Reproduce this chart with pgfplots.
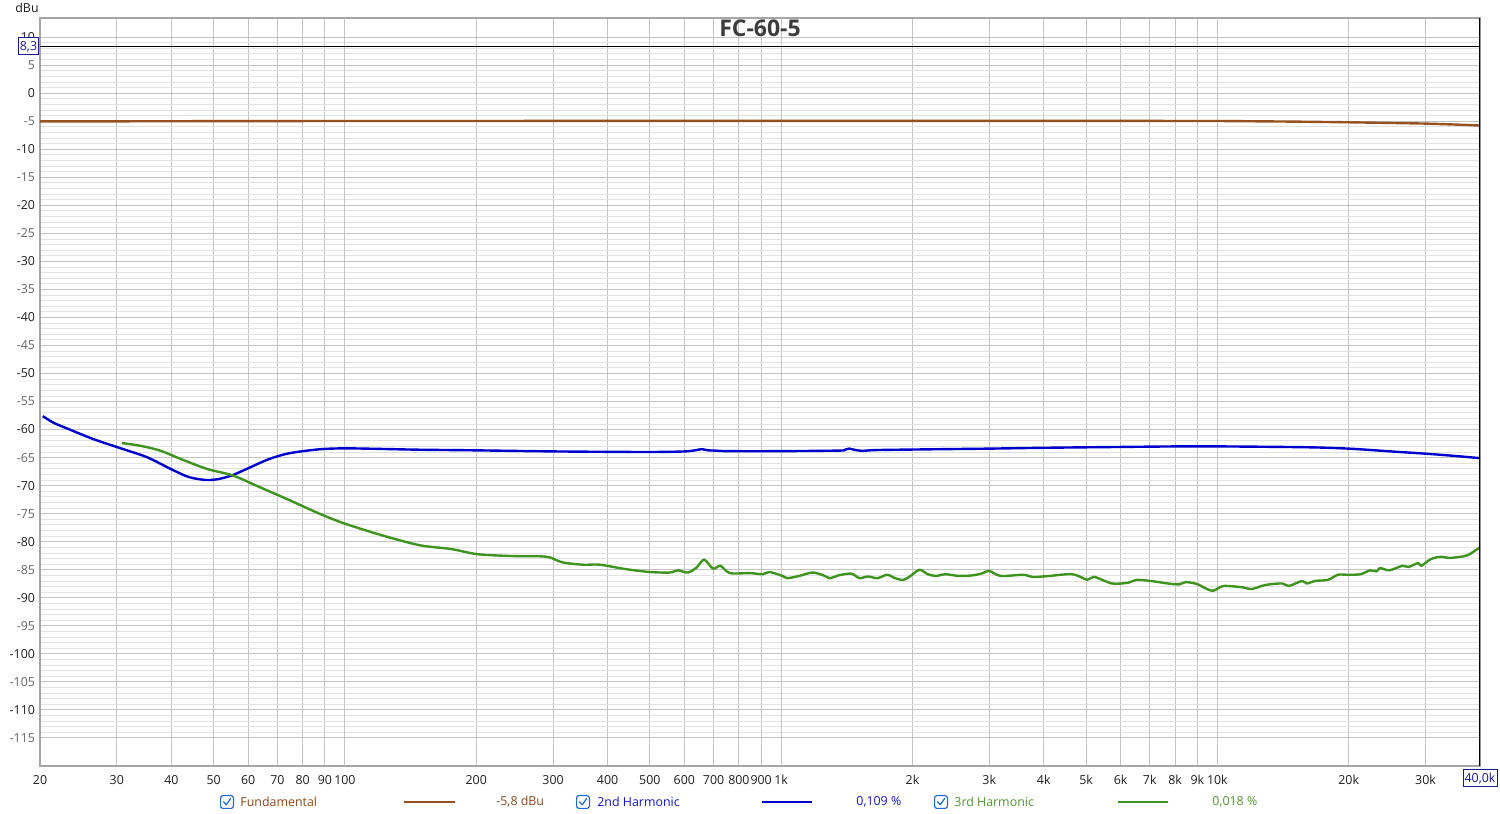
\documentclass[border=0pt]{standalone}
\usepackage{fontspec}
\setmainfont{Open Sans}
\usepackage{pgfplots}
\pgfplotsset{compat=1.18}
\usepackage{pgfplotstable}

\definecolor{fund}{RGB}{150,82,32}
\definecolor{fundtxt}{RGB}{140,70,25}
\definecolor{h2}{RGB}{0,0,205}
\definecolor{h2txt}{RGB}{20,20,200}
\definecolor{h3}{RGB}{62,148,30}
\definecolor{h3txt}{RGB}{80,150,40}
\definecolor{gridmaj}{RGB}{196,196,196}
\definecolor{gridmin}{RGB}{226,226,226}
\definecolor{griddec}{RGB}{110,110,110}
\definecolor{cb}{RGB}{30,105,210}
\definecolor{labd}{RGB}{30,30,30}
\definecolor{labg}{RGB}{100,100,100}
\definecolor{titlec}{RGB}{60,60,60}
\definecolor{boxb}{RGB}{25,25,150}

\newcommand\G[1]{\textcolor{labg}{#1}}
\newcommand\D[1]{\textcolor{labd}{#1}}

\pgfplotstableread{
f y
20 -5.05
50 -5.0
100 -4.97
1000 -4.95
5000 -4.95
10000 -4.97
15000 -5.08
20000 -5.2
25000 -5.32
30000 -5.43
35000 -5.6
40000 -5.78
}\fundtab

\pgfplotstableread{
f y
20.3 -57.6
21.5 -58.8
23.4 -60.0
26.5 -61.7
30.5 -63.3
35.1 -64.9
40.3 -67.2
44 -68.5
48.2 -69.0
51.5 -68.8
55.4 -68.1
60 -66.9
66.3 -65.4
72 -64.5
77.6 -64.0
88 -63.5
100 -63.35
120 -63.45
150 -63.6
197 -63.7
303 -63.9
491 -64.0
601 -63.9
640 -63.65
658 -63.5
680 -63.7
703 -63.75
760 -63.85
1000 -63.85
1359 -63.75
1400 -63.6
1432 -63.4
1470 -63.6
1535 -63.8
1664 -63.65
2331 -63.5
3000 -63.4
4000 -63.25
6000 -63.1
8200 -63.0
10000 -63.0
15900 -63.15
20000 -63.4
25000 -63.9
30000 -64.3
35000 -64.7
40000 -65.1
}\htwotab

\pgfplotstableread{
f y
30.8 -62.4
34 -62.9
37.7 -63.75
41.9 -65.2
48.2 -67.0
55.4 -68.2
63.9 -70.3
73.7 -72.4
87.7 -75.05
99.3 -76.7
114 -78.2
130 -79.5
150 -80.7
175 -81.3
200 -82.2
230 -82.5
260 -82.6
280 -82.6
295 -82.8
316 -83.7
352 -84.1
384 -84.1
441 -84.9
500 -85.4
555 -85.5
580 -85.1
611 -85.5
640 -84.6
666 -83.2
698 -84.8
726 -84.3
763 -85.6
848 -85.6
908 -85.8
940 -85.4
1007 -86.1
1034 -86.5
1100 -86.1
1178 -85.5
1240 -85.9
1296 -86.5
1353 -86.0
1449 -85.7
1512 -86.5
1580 -86.2
1663 -86.5
1750 -85.9
1825 -86.5
1906 -86.8
1989 -86.0
2077 -85.0
2169 -85.8
2264 -86.1
2383 -85.8
2550 -86.1
2750 -86.0
2900 -85.6
3000 -85.2
3186 -86.1
3593 -85.9
3777 -86.3
4128 -86.1
4655 -85.8
5035 -86.8
5213 -86.25
5736 -87.45
6258 -87.3
6540 -86.8
7187 -87.1
7699 -87.45
8179 -87.6
8464 -87.2
8993 -87.55
9303 -88.15
9769 -88.75
10330 -87.9
11450 -88.15
11960 -88.45
12920 -87.7
14090 -87.45
14580 -87.9
15620 -87.0
16030 -87.45
16740 -87.0
17930 -86.8
18880 -85.9
19880 -85.9
21290 -85.8
22400 -85.1
23180 -85.3
23580 -84.7
24800 -85.1
26530 -84.3
27440 -84.5
28860 -83.8
29340 -84.3
30860 -83.1
32450 -82.7
34130 -82.9
35900 -82.7
37500 -82.4
40000 -81.0
}\hthreetab

\newcommand\cbox[1]{%
  \draw[cb, line width=0.6pt, rounded corners=1.2pt] (#1-3.2pt,2.8pt) rectangle (#1+3.2pt,9.2pt);
  \draw[cb, line width=0.6pt, line cap=round, line join=round] (#1-1.7pt,6.1pt) -- (#1-0.4pt,4.6pt) -- (#1+1.8pt,7.7pt);}

\begin{document}
\begin{tikzpicture}
\path[use as bounding box] (0,0) rectangle (750pt,407pt);
\begin{axis}[
  scale only axis, width=720pt, height=374pt,
  at={(20pt,24pt)}, anchor=south west,
  xmode=log, xmin=20, xmax=40000, ymin=-120, ymax=13.4,
  xtick={20,30,40,50,60,70,80,90,200,300,400,500,600,700,800,900,2000,3000,4000,5000,6000,7000,8000,9000,20000,30000},
  xticklabels={20,30,40,50,60,70,80,90,200,300,400,500,600,700,800,900,2k,3k,4k,5k,6k,7k,8k,9k,20k,30k},
  extra x ticks={100,1000,10000},
  extra x tick labels={100,1k,10k},
  extra x tick style={grid style={griddec, line width=0.5pt}},
  ytick={-115,-110,...,10},
  yticklabels={\G{-115},\D{-110},\G{-105},\D{-100},\G{-95},\D{-90},\G{-85},\D{-80},\G{-75},\D{-70},\G{-65},\D{-60},\G{-55},\D{-50},\G{-45},\D{-40},\G{-35},\D{-30},\G{-25},\D{-20},\G{-15},\D{-10},\G{-5},\D{0},\G{5},\D{10}},
  minor y tick num=4,
  minor x tick num=0,
  xmajorgrids, ymajorgrids, yminorgrids,
  major grid style={gridmaj, line width=0.5pt},
  minor grid style={gridmin, line width=0.4pt},
  major tick length=0pt, minor tick length=0pt,
  tick style={draw=none},
  axis line style={draw=gray!70, line width=0.6pt},
  tick label style={font=\fontsize{6.2}{7}\selectfont, text=labd},
  xticklabel style={yshift=-1pt},
  yticklabel style={xshift=1pt},
  /pgf/number format/assume math mode=true,
  clip=true,
]
\addplot[fund, line width=1.2pt] table[x=f,y=y] {\fundtab};
\addplot[h2, line width=1.2pt, line join=round, smooth, tension=0.5] table[x=f,y=y] {\htwotab};
\addplot[h3, line width=1.2pt, line join=round, smooth, tension=0.5] table[x=f,y=y] {\hthreetab};
\addplot[black, line width=0.6pt] coordinates {(20,8.3) (40000,8.3)};
\addplot[black, line width=0.8pt] coordinates {(40000,-120) (40000,13.4)};
\node[font=\fontsize{11.5}{13}\selectfont\bfseries, text=titlec, inner sep=0pt] at (rel axis cs:0.5,0.9866) {FC-60-5};
\end{axis}
% labels around the axis
\node[font=\fontsize{6.2}{7}\selectfont, text=labd, inner sep=0pt] at (13.5pt,403pt) {dBu};
\node[draw=boxb, fill=white, line width=0.5pt, inner sep=0.8pt, minimum height=8.5pt, text=boxb, font=\fontsize{6.2}{7}\selectfont] at (14.25pt,383.75pt) {8,3};
\node[draw=boxb, fill=white, line width=0.5pt, inner sep=0.8pt, minimum height=8.5pt, text=boxb, font=\fontsize{6.2}{7}\selectfont] at (740pt,17.75pt) {40,0k};
% legend row
\cbox{113.5pt}
\node[anchor=west, inner sep=0pt, text=fundtxt, font=\fontsize{6.2}{7}\selectfont] at (120pt,6pt) {Fundamental};
\draw[fund, line width=1.2pt] (202pt,6pt) -- (227.5pt,6pt);
\node[anchor=west, inner sep=0pt, text=fundtxt, font=\fontsize{6.2}{7}\selectfont] at (248pt,6pt) {-5,8 dBu};
\cbox{291.5pt}
\node[anchor=west, inner sep=0pt, text=h2txt, font=\fontsize{6.2}{7}\selectfont] at (298.5pt,6pt) {2nd Harmonic};
\draw[h2, line width=1.2pt] (381pt,6pt) -- (406pt,6pt);
\node[anchor=west, inner sep=0pt, text=h2txt, font=\fontsize{6.2}{7}\selectfont] at (428pt,6pt) {0,109 \%};
\cbox{470.5pt}
\node[anchor=west, inner sep=0pt, text=h3txt, font=\fontsize{6.2}{7}\selectfont] at (477pt,6pt) {3rd Harmonic};
\draw[h3, line width=1.2pt] (559pt,6pt) -- (584pt,6pt);
\node[anchor=west, inner sep=0pt, text=h3txt, font=\fontsize{6.2}{7}\selectfont] at (606pt,6pt) {0,018 \%};
\end{tikzpicture}
\end{document}
